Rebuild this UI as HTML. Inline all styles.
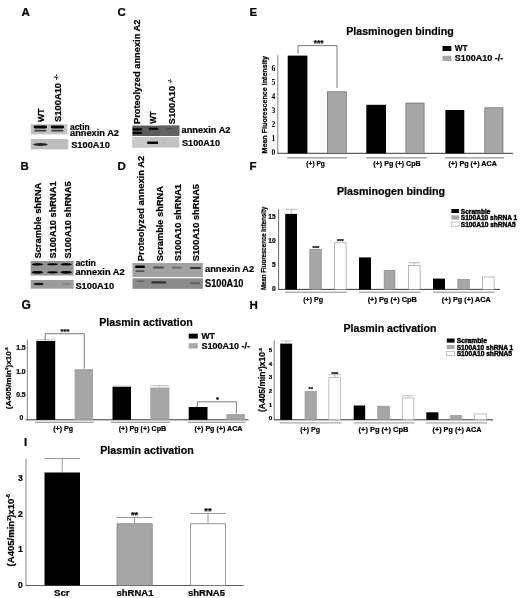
<!DOCTYPE html>
<html><head><meta charset="utf-8"><title>Figure</title>
<style>
html,body{margin:0;padding:0;background:#fff;}
body{width:520px;height:598px;overflow:hidden;}
svg{display:block;font-family:'Liberation Sans', sans-serif;}
text{stroke:#000;stroke-width:0.22px;}
</style></head><body>
<svg width="520" height="598" viewBox="0 0 520 598">
<defs>
<filter id="b" x="-20%" y="-50%" width="140%" height="200%"><feGaussianBlur stdDeviation="0.45"/></filter>
<filter id="soft"><feGaussianBlur stdDeviation="0.35"/></filter>
</defs>
<rect width="520" height="598" fill="#fff"/>
<g filter="url(#soft)">
<text x="21.5" y="15.6" font-size="11.5" font-weight="bold" fill="#000">A</text>
<text x="117.5" y="15.5" font-size="11.5" font-weight="bold" fill="#000">C</text>
<text x="249.5" y="15.6" font-size="11.5" font-weight="bold" fill="#000">E</text>
<text x="20.5" y="169.8" font-size="11.5" font-weight="bold" fill="#000">B</text>
<text x="117.5" y="170" font-size="11.5" font-weight="bold" fill="#000">D</text>
<text x="249.5" y="170.3" font-size="11.5" font-weight="bold" fill="#000">F</text>
<text x="21.5" y="309.2" font-size="12" font-weight="bold" fill="#000">G</text>
<text x="249.5" y="309.3" font-size="11.5" font-weight="bold" fill="#000">H</text>
<text x="24" y="445.5" font-size="11.5" font-weight="bold" fill="#000">I</text>
<rect x="30.80" y="124.20" width="36.50" height="10.20" fill="#c2c2c2"/>
<rect x="30.80" y="139.00" width="37.40" height="10.40" fill="#bdbdbd"/>
<rect x="33.60" y="125.60" width="13.40" height="2.80" rx="1.40" fill="#000" opacity="1.0" filter="url(#b)"/>
<rect x="50.70" y="125.60" width="13.40" height="2.80" rx="1.40" fill="#000" opacity="1.0" filter="url(#b)"/>
<rect x="34.30" y="129.85" width="12.00" height="1.70" rx="0.85" fill="#222" opacity="0.85" filter="url(#b)"/>
<rect x="51.40" y="129.85" width="12.00" height="1.70" rx="0.85" fill="#222" opacity="0.85" filter="url(#b)"/>
<ellipse cx="40.40" cy="144.50" rx="7.25" ry="1.50" fill="#1a1a1a" opacity="0.95" filter="url(#b)"/>
<text x="70" y="129.8" font-size="9" font-weight="bold" textLength="19.6" lengthAdjust="spacingAndGlyphs" fill="#000">actin</text>
<text x="70" y="136.1" font-size="9" font-weight="bold" textLength="49" lengthAdjust="spacingAndGlyphs" fill="#000">annexin A2</text>
<text x="71.2" y="148.4" font-size="9.6" font-weight="bold" textLength="38.6" lengthAdjust="spacingAndGlyphs" fill="#000">S100A10</text>
<text x="43.7" y="122" font-size="9" font-weight="bold" transform="rotate(-90 43.7 122)" textLength="13.5" lengthAdjust="spacingAndGlyphs" fill="#000">WT</text>
<text x="61.4" y="122" font-size="9.6" font-weight="bold" transform="rotate(-90 61.4 122)" textLength="39.1" lengthAdjust="spacingAndGlyphs" fill="#000">S100A10</text>
<text x="57.8" y="79.8" font-size="5.2" font-weight="bold" transform="rotate(-90 57.8 79.8)" textLength="5.4" lengthAdjust="spacingAndGlyphs" fill="#000">-/-</text>
<rect x="132.30" y="125.60" width="47.00" height="10.40" fill="#5a5a5a"/>
<rect x="160.00" y="125.60" width="19.30" height="10.40" fill="#646464"/>
<rect x="132.30" y="137.00" width="47.00" height="10.60" fill="#c2c2c2"/>
<rect x="132.30" y="137.00" width="17.70" height="10.60" fill="#c9c9c9"/>
<rect x="132.50" y="128.20" width="9.60" height="2.20" rx="1.10" fill="#000" opacity="1.0" filter="url(#b)"/>
<rect x="132.50" y="131.80" width="9.60" height="2.20" rx="1.10" fill="#000" opacity="1.0" filter="url(#b)"/>
<rect x="148.70" y="127.80" width="9.40" height="2.00" rx="1.00" fill="#000" opacity="1.0" filter="url(#b)"/>
<rect x="166.00" y="128.00" width="6.00" height="1.20" rx="0.60" fill="#333" opacity="0.5" filter="url(#b)"/>
<rect x="147.00" y="141.60" width="11.20" height="2.40" rx="1.20" fill="#000" opacity="1.0" filter="url(#b)"/>
<rect x="162.80" y="142.20" width="2.40" height="1.20" rx="0.60" fill="#999" opacity="0.6" filter="url(#b)"/>
<text x="181.5" y="132.6" font-size="9.2" font-weight="bold" textLength="49" lengthAdjust="spacingAndGlyphs" fill="#000">annexin A2</text>
<text x="182" y="145.6" font-size="9.4" font-weight="bold" textLength="38" lengthAdjust="spacingAndGlyphs" fill="#000">S100A10</text>
<text x="140.4" y="124" font-size="9.6" font-weight="bold" transform="rotate(-90 140.4 124)" textLength="104.5" lengthAdjust="spacingAndGlyphs" fill="#000">Proteolyzed annexin A2</text>
<text x="156.3" y="123.8" font-size="9" font-weight="bold" transform="rotate(-90 156.3 123.8)" textLength="12.6" lengthAdjust="spacingAndGlyphs" fill="#000">WT</text>
<text x="175.5" y="124.2" font-size="9.8" font-weight="bold" transform="rotate(-90 175.5 124.2)" textLength="38.2" lengthAdjust="spacingAndGlyphs" fill="#000">S100A10</text>
<text x="171.8" y="83" font-size="4.8" font-weight="bold" transform="rotate(-90 171.8 83)" textLength="4" lengthAdjust="spacingAndGlyphs" fill="#000">-/-</text>
<rect x="30.70" y="261.00" width="42.90" height="14.50" fill="#939393"/>
<rect x="30.70" y="280.00" width="42.90" height="8.70" fill="#9c9c9c"/>
<ellipse cx="37.40" cy="264.30" rx="5.70" ry="1.30" fill="#000" opacity="1.0" filter="url(#b)"/>
<ellipse cx="37.40" cy="272.30" rx="5.70" ry="1.40" fill="#000" opacity="1.0" filter="url(#b)"/>
<ellipse cx="52.50" cy="264.30" rx="5.30" ry="1.00" fill="#000" opacity="1.0" filter="url(#b)"/>
<ellipse cx="52.50" cy="272.30" rx="5.30" ry="1.10" fill="#000" opacity="1.0" filter="url(#b)"/>
<ellipse cx="66.20" cy="264.30" rx="5.70" ry="1.30" fill="#000" opacity="1.0" filter="url(#b)"/>
<ellipse cx="66.20" cy="272.30" rx="5.70" ry="1.40" fill="#000" opacity="1.0" filter="url(#b)"/>
<ellipse cx="38.60" cy="284.00" rx="5.00" ry="1.20" fill="#111" opacity="0.95" filter="url(#b)"/>
<ellipse cx="52.50" cy="284.80" rx="4.00" ry="0.80" fill="#777" opacity="0.3" filter="url(#b)"/>
<ellipse cx="66.50" cy="284.20" rx="4.50" ry="0.90" fill="#666" opacity="0.4" filter="url(#b)"/>
<text x="75.4" y="266.4" font-size="9.2" font-weight="bold" textLength="20.6" lengthAdjust="spacingAndGlyphs" fill="#000">actin</text>
<text x="75.4" y="275" font-size="9.2" font-weight="bold" textLength="49.4" lengthAdjust="spacingAndGlyphs" fill="#000">annexin A2</text>
<text x="75.4" y="288.5" font-size="9.6" font-weight="bold" textLength="38.7" lengthAdjust="spacingAndGlyphs" fill="#000">S100A10</text>
<text x="40.7" y="258.6" font-size="9.6" font-weight="bold" transform="rotate(-90 40.7 258.6)" textLength="76" lengthAdjust="spacingAndGlyphs" fill="#000">Scramble shRNA</text>
<text x="56.4" y="258.6" font-size="9.6" font-weight="bold" transform="rotate(-90 56.4 258.6)" textLength="77.2" lengthAdjust="spacingAndGlyphs" fill="#000">S100A10 shRNA1</text>
<text x="71" y="258.6" font-size="9.6" font-weight="bold" transform="rotate(-90 71 258.6)" textLength="77.2" lengthAdjust="spacingAndGlyphs" fill="#000">S100A10 shRNA5</text>
<rect x="132.50" y="263.00" width="70.40" height="14.10" fill="#a2a2a2"/>
<rect x="132.50" y="278.30" width="70.40" height="10.50" fill="#8a8a8a"/>
<rect x="135.00" y="265.50" width="10.00" height="2.60" rx="1.30" fill="#000" opacity="1.0" filter="url(#b)"/>
<rect x="135.50" y="270.30" width="9.00" height="1.80" rx="0.90" fill="#222" opacity="0.6" filter="url(#b)"/>
<rect x="153.00" y="266.60" width="11.00" height="2.00" rx="1.00" fill="#333" opacity="0.75" filter="url(#b)"/>
<rect x="172.00" y="266.70" width="10.00" height="1.80" rx="0.90" fill="#444" opacity="0.6" filter="url(#b)"/>
<rect x="190.00" y="266.90" width="11.00" height="2.20" rx="1.10" fill="#222" opacity="0.85" filter="url(#b)"/>
<rect x="136.50" y="280.40" width="8.00" height="1.60" rx="0.80" fill="#444" opacity="0.55" filter="url(#b)"/>
<rect x="151.30" y="281.20" width="15.00" height="2.40" rx="1.20" fill="#222" opacity="0.85" filter="url(#b)"/>
<rect x="190.00" y="282.30" width="10.00" height="1.80" rx="0.90" fill="#444" opacity="0.6" filter="url(#b)"/>
<text x="205" y="272" font-size="9.6" font-weight="bold" textLength="49.2" lengthAdjust="spacingAndGlyphs" fill="#000">annexin A2</text>
<text x="205" y="286.6" font-size="10" font-weight="bold" textLength="38.4" lengthAdjust="spacingAndGlyphs" fill="#000">S100A10</text>
<text x="144.2" y="261.2" font-size="9.6" font-weight="bold" transform="rotate(-90 144.2 261.2)" textLength="105.4" lengthAdjust="spacingAndGlyphs" fill="#000">Proteolyzed annexin A2</text>
<text x="162.9" y="261.2" font-size="9.6" font-weight="bold" transform="rotate(-90 162.9 261.2)" textLength="75.2" lengthAdjust="spacingAndGlyphs" fill="#000">Scramble shRNA</text>
<text x="181.3" y="261.2" font-size="9.6" font-weight="bold" transform="rotate(-90 181.3 261.2)" textLength="77.2" lengthAdjust="spacingAndGlyphs" fill="#000">S100A10 shRNA1</text>
<text x="198.7" y="261.2" font-size="9.6" font-weight="bold" transform="rotate(-90 198.7 261.2)" textLength="77.2" lengthAdjust="spacingAndGlyphs" fill="#000">S100A10 shRNA5</text>
<text x="400" y="34.7" font-size="10.9" font-weight="bold" text-anchor="middle" textLength="107.5" lengthAdjust="spacingAndGlyphs" fill="#000">Plasminogen binding</text>
<line x1="277.80" y1="55.20" x2="277.80" y2="153.30" stroke="#777" stroke-width="0.9"/>
<line x1="277.20" y1="153.30" x2="513.00" y2="153.30" stroke="#222" stroke-width="0.9"/>
<text x="273.4" y="155.0" font-size="7.6" font-weight="bold" text-anchor="middle" fill="#000" font-family="Liberation Serif, serif" style="stroke:none">0</text>
<text x="273.4" y="140.95" font-size="7.6" font-weight="bold" text-anchor="middle" fill="#000" font-family="Liberation Serif, serif" style="stroke:none">1</text>
<text x="273.4" y="126.90000000000002" font-size="7.6" font-weight="bold" text-anchor="middle" fill="#000" font-family="Liberation Serif, serif" style="stroke:none">2</text>
<text x="273.4" y="112.85000000000001" font-size="7.6" font-weight="bold" text-anchor="middle" fill="#000" font-family="Liberation Serif, serif" style="stroke:none">3</text>
<text x="273.4" y="98.80000000000001" font-size="7.6" font-weight="bold" text-anchor="middle" fill="#000" font-family="Liberation Serif, serif" style="stroke:none">4</text>
<text x="273.4" y="84.75000000000001" font-size="7.6" font-weight="bold" text-anchor="middle" fill="#000" font-family="Liberation Serif, serif" style="stroke:none">5</text>
<text x="273.4" y="70.7" font-size="7.6" font-weight="bold" text-anchor="middle" fill="#000" font-family="Liberation Serif, serif" style="stroke:none">6</text>
<text x="266.5" y="153.5" font-size="6.9" font-weight="bold" transform="rotate(-90 266.5 153.5)" textLength="97.5" lengthAdjust="spacingAndGlyphs" fill="#000">Mean Fluorescence Intensity</text>
<rect x="287.70" y="55.60" width="19.70" height="97.70" fill="#000"/>
<rect x="327.30" y="91.80" width="19.00" height="61.50" fill="#a6a6a6" stroke="#555" stroke-width="0.6"/>
<rect x="366.30" y="104.80" width="19.70" height="48.50" fill="#000"/>
<rect x="405.90" y="103.00" width="18.20" height="50.30" fill="#a6a6a6" stroke="#555" stroke-width="0.6"/>
<rect x="445.40" y="110.00" width="18.90" height="43.30" fill="#000"/>
<rect x="484.80" y="107.80" width="18.20" height="45.50" fill="#a6a6a6" stroke="#555" stroke-width="0.6"/>
<line x1="287.00" y1="157.90" x2="347.00" y2="157.90" stroke="#555" stroke-width="0.8"/>
<line x1="366.00" y1="157.90" x2="427.00" y2="157.90" stroke="#555" stroke-width="0.8"/>
<line x1="445.00" y1="157.90" x2="504.00" y2="157.90" stroke="#555" stroke-width="0.8"/>
<text x="315.6" y="166.2" font-size="6.8" font-weight="bold" text-anchor="middle" textLength="18.5" lengthAdjust="spacingAndGlyphs" fill="#000">(+) Pg</text>
<text x="397" y="166.2" font-size="6.8" font-weight="bold" text-anchor="middle" textLength="47.5" lengthAdjust="spacingAndGlyphs" fill="#000">(+) Pg (+) CpB</text>
<text x="472.7" y="166.2" font-size="6.8" font-weight="bold" text-anchor="middle" textLength="48.5" lengthAdjust="spacingAndGlyphs" fill="#000">(+) Pg (+) ACA</text>
<polyline points="298,53.7 298,45.6 337,45.6 337,88" fill="none" stroke="#333" stroke-width="0.65"/>
<text x="318.7" y="46" font-size="8.4" font-weight="bold" text-anchor="middle" fill="#000">***</text>
<rect x="442.50" y="46.00" width="8.90" height="5.00" fill="#000"/>
<text x="454.8" y="51.4" font-size="8.4" font-weight="bold" textLength="12.8" lengthAdjust="spacingAndGlyphs" fill="#000">WT</text>
<rect x="442.50" y="55.80" width="8.90" height="5.20" fill="#a6a6a6"/>
<text x="454.8" y="61.4" font-size="8.4" font-weight="bold" textLength="48.4" lengthAdjust="spacingAndGlyphs" fill="#000">S100A10 -/-</text>
<text x="391" y="195.2" font-size="10.9" font-weight="bold" text-anchor="middle" textLength="108" lengthAdjust="spacingAndGlyphs" fill="#000">Plasminogen binding</text>
<line x1="278.60" y1="209.20" x2="278.60" y2="289.40" stroke="#444" stroke-width="0.8"/>
<line x1="278.20" y1="289.40" x2="500.00" y2="289.40" stroke="#222" stroke-width="0.9"/>
<text x="275.6" y="290.7" font-size="6.6" font-weight="bold" text-anchor="end" fill="#000">0</text>
<text x="275.6" y="266.95" font-size="6.6" font-weight="bold" text-anchor="end" fill="#000">5</text>
<text x="275.6" y="243.2" font-size="6.6" font-weight="bold" text-anchor="end" fill="#000">10</text>
<text x="275.6" y="219.45" font-size="6.6" font-weight="bold" text-anchor="end" fill="#000">15</text>
<text x="265.7" y="290" font-size="6.6" font-weight="bold" transform="rotate(-90 265.7 290)" textLength="83.5" lengthAdjust="spacingAndGlyphs" fill="#000">Mean Fluorescence Intensity</text>
<rect x="285.20" y="213.90" width="11.80" height="75.50" fill="#000"/>
<rect x="309.80" y="249.30" width="11.80" height="40.10" fill="#a6a6a6" stroke="#888" stroke-width="0.6"/>
<rect x="334.60" y="242.80" width="11.50" height="46.60" fill="#fff" stroke="#888" stroke-width="0.6"/>
<rect x="359.00" y="257.40" width="12.00" height="32.00" fill="#000"/>
<rect x="384.10" y="270.30" width="10.90" height="19.10" fill="#a6a6a6" stroke="#888" stroke-width="0.6"/>
<rect x="408.60" y="265.30" width="11.50" height="24.10" fill="#fff" stroke="#888" stroke-width="0.6"/>
<rect x="433.00" y="278.60" width="12.00" height="10.80" fill="#000"/>
<rect x="457.80" y="279.30" width="11.60" height="10.10" fill="#a6a6a6" stroke="#888" stroke-width="0.6"/>
<rect x="482.60" y="277.00" width="11.50" height="12.40" fill="#fff" stroke="#888" stroke-width="0.6"/>
<line x1="291.20" y1="213.90" x2="291.20" y2="209.30" stroke="#888" stroke-width="0.6"/>
<line x1="285.40" y1="209.30" x2="297.00" y2="209.30" stroke="#888" stroke-width="0.6"/>
<line x1="414.35" y1="265.00" x2="414.35" y2="262.70" stroke="#888" stroke-width="0.6"/>
<line x1="408.30" y1="262.70" x2="420.40" y2="262.70" stroke="#888" stroke-width="0.6"/>
<text x="316" y="249.6" font-size="5.8" font-weight="bold" text-anchor="middle" fill="#000">***</text>
<text x="340.4" y="243" font-size="5.8" font-weight="bold" text-anchor="middle" fill="#000">***</text>
<line x1="285.00" y1="292.20" x2="347.00" y2="292.20" stroke="#222" stroke-width="0.55"/>
<line x1="359.00" y1="292.20" x2="420.50" y2="292.20" stroke="#222" stroke-width="0.55"/>
<line x1="433.00" y1="292.20" x2="494.50" y2="292.20" stroke="#222" stroke-width="0.55"/>
<text x="313.1" y="301.8" font-size="6.9" font-weight="bold" text-anchor="middle" textLength="19.8" lengthAdjust="spacingAndGlyphs" fill="#000">(+) Pg</text>
<text x="392.3" y="301.8" font-size="7" font-weight="bold" text-anchor="middle" textLength="49.3" lengthAdjust="spacingAndGlyphs" fill="#000">(+) Pg (+) CpB</text>
<text x="466.3" y="301.8" font-size="7" font-weight="bold" text-anchor="middle" textLength="49" lengthAdjust="spacingAndGlyphs" fill="#000">(+) Pg (+) ACA</text>
<rect x="451.40" y="209.00" width="7.60" height="4.00" fill="#000"/>
<text x="460.8" y="213.5" font-size="6.4" font-weight="bold" textLength="29.6" lengthAdjust="spacingAndGlyphs" fill="#000" style="stroke-width:0.4px">Scramble</text>
<rect x="451.40" y="215.40" width="7.60" height="4.20" fill="#a6a6a6"/>
<text x="460.8" y="220.1" font-size="6.4" font-weight="bold" textLength="56.4" lengthAdjust="spacingAndGlyphs" fill="#000" style="stroke-width:0.4px">S100A10 shRNA 1</text>
<rect x="451.40" y="222.00" width="7.60" height="4.20" fill="#fff" stroke="#888" stroke-width="0.5"/>
<text x="460.8" y="226.9" font-size="6.4" font-weight="bold" textLength="55" lengthAdjust="spacingAndGlyphs" fill="#000" style="stroke-width:0.4px">S100A10 shRNA5</text>
<text x="146" y="326.2" font-size="10.9" font-weight="bold" text-anchor="middle" textLength="93.5" lengthAdjust="spacingAndGlyphs" fill="#000">Plasmin activation</text>
<line x1="27.30" y1="339.50" x2="27.30" y2="419.80" stroke="#666" stroke-width="0.8"/>
<line x1="25.80" y1="419.80" x2="248.50" y2="419.80" stroke="#222" stroke-width="0.9"/>
<text x="23.2" y="420.2" font-size="6.8" font-weight="bold" text-anchor="end" fill="#000">0</text>
<text x="25.6" y="397.3" font-size="6.8" font-weight="bold" text-anchor="end" fill="#000">0.5</text>
<text x="25.6" y="373.6" font-size="6.8" font-weight="bold" text-anchor="end" fill="#000">1.0</text>
<text x="25.6" y="349.90000000000003" font-size="6.8" font-weight="bold" text-anchor="end" fill="#000">1.5</text>
<text x="11" y="409.2" font-size="8" font-weight="bold" transform="rotate(-90 11 409.2)" textLength="62" lengthAdjust="spacingAndGlyphs" fill="#000">(A405/min<tspan font-size="4.4" dy="-2.8">2</tspan><tspan dy="2.8">)x10</tspan><tspan font-size="4.4" dy="-3.2">-6</tspan></text>
<rect x="36.30" y="341.00" width="18.90" height="78.80" fill="#000"/>
<rect x="74.60" y="370.50" width="18.40" height="49.30" fill="#a6a6a6"/>
<rect x="112.50" y="386.70" width="18.50" height="33.10" fill="#000"/>
<rect x="150.20" y="387.50" width="19.20" height="32.30" fill="#a6a6a6"/>
<rect x="188.70" y="407.00" width="18.80" height="12.80" fill="#000"/>
<rect x="226.40" y="414.00" width="18.60" height="5.80" fill="#a6a6a6"/>
<line x1="36.30" y1="339.80" x2="55.20" y2="339.80" stroke="#999" stroke-width="0.7"/>
<rect x="74.60" y="369.40" width="18.40" height="1.20" fill="#808080"/>
<rect x="112.50" y="385.60" width="18.50" height="1.20" fill="#bbb"/>
<line x1="159.80" y1="387.50" x2="159.80" y2="385.60" stroke="#999" stroke-width="0.6"/>
<line x1="150.20" y1="385.60" x2="169.40" y2="385.60" stroke="#999" stroke-width="0.6"/>
<line x1="35.00" y1="422.30" x2="93.70" y2="422.30" stroke="#222" stroke-width="0.55"/>
<line x1="111.00" y1="422.30" x2="170.00" y2="422.30" stroke="#222" stroke-width="0.55"/>
<line x1="188.00" y1="422.30" x2="245.50" y2="422.30" stroke="#222" stroke-width="0.55"/>
<text x="63.2" y="430.8" font-size="6.8" font-weight="bold" text-anchor="middle" textLength="19.9" lengthAdjust="spacingAndGlyphs" fill="#000">(+) Pg</text>
<text x="142.4" y="430.8" font-size="6.8" font-weight="bold" text-anchor="middle" textLength="47.5" lengthAdjust="spacingAndGlyphs" fill="#000">(+) Pg (+) CpB</text>
<text x="218.5" y="430.8" font-size="6.8" font-weight="bold" text-anchor="middle" textLength="48" lengthAdjust="spacingAndGlyphs" fill="#000">(+) Pg (+) ACA</text>
<polyline points="45.2,340.4 45.2,333.7 84.3,333.7 84.3,368.7" fill="none" stroke="#333" stroke-width="0.65"/>
<text x="65" y="334.2" font-size="7.6" font-weight="bold" text-anchor="middle" fill="#000">***</text>
<polyline points="197.3,407 197.3,401.8 236.4,401.8 236.4,413.4" fill="none" stroke="#333" stroke-width="0.65"/>
<text x="217.5" y="402.4" font-size="7.6" font-weight="bold" text-anchor="middle" fill="#000">*</text>
<rect x="188.70" y="333.70" width="9.10" height="4.90" fill="#000"/>
<text x="201.4" y="338.9" font-size="8.6" font-weight="bold" textLength="13.4" lengthAdjust="spacingAndGlyphs" fill="#000">WT</text>
<rect x="188.70" y="343.20" width="9.10" height="5.30" fill="#a6a6a6"/>
<text x="201.4" y="348.9" font-size="8.6" font-weight="bold" textLength="48.6" lengthAdjust="spacingAndGlyphs" fill="#000">S100A10 -/-</text>
<text x="390" y="331.5" font-size="10.9" font-weight="bold" text-anchor="middle" textLength="93" lengthAdjust="spacingAndGlyphs" fill="#000">Plasmin activation</text>
<line x1="274.20" y1="340.40" x2="274.20" y2="419.80" stroke="#555" stroke-width="0.8"/>
<line x1="273.80" y1="419.80" x2="493.00" y2="419.80" stroke="#222" stroke-width="0.9"/>
<text x="270.6" y="420.3" font-size="6.2" font-weight="bold" text-anchor="middle" fill="#000">0</text>
<text x="270.6" y="406.6" font-size="6.2" font-weight="bold" text-anchor="middle" fill="#000">1</text>
<text x="270.6" y="392.90000000000003" font-size="6.2" font-weight="bold" text-anchor="middle" fill="#000">2</text>
<text x="270.6" y="379.20000000000005" font-size="6.2" font-weight="bold" text-anchor="middle" fill="#000">3</text>
<text x="270.6" y="365.5" font-size="6.2" font-weight="bold" text-anchor="middle" fill="#000">4</text>
<text x="270.6" y="351.8" font-size="6.2" font-weight="bold" text-anchor="middle" fill="#000">5</text>
<text x="264.8" y="412" font-size="8.2" font-weight="bold" transform="rotate(-90 264.8 412)" textLength="64" lengthAdjust="spacingAndGlyphs" fill="#000">(A405/min<tspan font-size="4.4" dy="-2.8">2</tspan><tspan dy="2.8">)x10</tspan><tspan font-size="4.4" dy="-3.2">-6</tspan></text>
<rect x="280.20" y="343.60" width="11.90" height="76.20" fill="#000"/>
<rect x="305.00" y="391.30" width="11.50" height="28.50" fill="#a6a6a6" stroke="#999" stroke-width="0.6"/>
<rect x="328.90" y="377.70" width="11.80" height="42.10" fill="#fff" stroke="#999" stroke-width="0.6"/>
<rect x="353.70" y="405.50" width="11.50" height="14.30" fill="#000"/>
<rect x="377.70" y="406.10" width="12.00" height="13.70" fill="#a6a6a6" stroke="#999" stroke-width="0.6"/>
<rect x="402.30" y="398.00" width="11.60" height="21.80" fill="#fff" stroke="#999" stroke-width="0.6"/>
<rect x="426.30" y="412.30" width="12.10" height="7.50" fill="#000"/>
<rect x="450.30" y="415.30" width="11.40" height="4.50" fill="#a6a6a6" stroke="#999" stroke-width="0.6"/>
<rect x="474.50" y="413.90" width="12.20" height="5.90" fill="#fff" stroke="#999" stroke-width="0.6"/>
<line x1="286.35" y1="343.60" x2="286.35" y2="341.00" stroke="#999" stroke-width="0.6"/>
<line x1="280.40" y1="341.00" x2="292.30" y2="341.00" stroke="#999" stroke-width="0.6"/>
<line x1="334.80" y1="377.40" x2="334.80" y2="374.70" stroke="#999" stroke-width="0.6"/>
<line x1="328.60" y1="374.70" x2="341.00" y2="374.70" stroke="#999" stroke-width="0.6"/>
<line x1="408.10" y1="397.70" x2="408.10" y2="395.70" stroke="#999" stroke-width="0.6"/>
<line x1="402.00" y1="395.70" x2="414.20" y2="395.70" stroke="#999" stroke-width="0.6"/>
<text x="310.8" y="390.6" font-size="5.8" font-weight="bold" text-anchor="middle" fill="#000">**</text>
<text x="334.8" y="375.8" font-size="5.8" font-weight="bold" text-anchor="middle" fill="#000">***</text>
<line x1="280.00" y1="422.90" x2="341.50" y2="422.90" stroke="#333" stroke-width="0.55"/>
<line x1="353.50" y1="422.90" x2="414.50" y2="422.90" stroke="#333" stroke-width="0.55"/>
<line x1="426.00" y1="422.90" x2="487.00" y2="422.90" stroke="#333" stroke-width="0.55"/>
<text x="310.2" y="432.2" font-size="6.9" font-weight="bold" text-anchor="middle" textLength="20" lengthAdjust="spacingAndGlyphs" fill="#000">(+) Pg</text>
<text x="383.5" y="432.2" font-size="7" font-weight="bold" text-anchor="middle" textLength="49.9" lengthAdjust="spacingAndGlyphs" fill="#000">(+) Pg (+) CpB</text>
<text x="457" y="432.2" font-size="7" font-weight="bold" text-anchor="middle" textLength="49" lengthAdjust="spacingAndGlyphs" fill="#000">(+) Pg (+) ACA</text>
<rect x="446.80" y="338.50" width="7.80" height="4.10" fill="#000"/>
<text x="456.7" y="343.1" font-size="6.4" font-weight="bold" textLength="30.3" lengthAdjust="spacingAndGlyphs" fill="#000" style="stroke-width:0.4px">Scramble</text>
<rect x="446.80" y="345.00" width="7.80" height="4.20" fill="#a6a6a6"/>
<text x="456.7" y="349.7" font-size="6.4" font-weight="bold" textLength="56.6" lengthAdjust="spacingAndGlyphs" fill="#000" style="stroke-width:0.4px">S100A10 shRNA 1</text>
<rect x="446.80" y="351.70" width="7.80" height="4.10" fill="#fff" stroke="#888" stroke-width="0.5"/>
<text x="456.7" y="356.3" font-size="6.4" font-weight="bold" textLength="55.3" lengthAdjust="spacingAndGlyphs" fill="#000" style="stroke-width:0.4px">S100A10 shRNA5</text>
<text x="147" y="454.1" font-size="10.9" font-weight="bold" text-anchor="middle" textLength="93.5" lengthAdjust="spacingAndGlyphs" fill="#000">Plasmin activation</text>
<line x1="26.00" y1="458.60" x2="26.00" y2="585.50" stroke="#777" stroke-width="0.9"/>
<line x1="25.60" y1="585.50" x2="243.50" y2="585.50" stroke="#333" stroke-width="0.8"/>
<text x="20.3" y="588.1" font-size="8.6" font-weight="bold" text-anchor="middle" fill="#000">0</text>
<text x="20.3" y="552.3000000000001" font-size="8.6" font-weight="bold" text-anchor="middle" fill="#000">1</text>
<text x="20.3" y="516.5" font-size="8.6" font-weight="bold" text-anchor="middle" fill="#000">2</text>
<text x="20.3" y="480.70000000000005" font-size="8.6" font-weight="bold" text-anchor="middle" fill="#000">3</text>
<text x="14.2" y="566.4" font-size="8.8" font-weight="bold" transform="rotate(-90 14.2 566.4)" textLength="72.5" lengthAdjust="spacingAndGlyphs" fill="#000">(A405/min<tspan font-size="5" dy="-3.2">2</tspan><tspan dy="3.2">)x10</tspan><tspan font-size="5" dy="-3.8">-6</tspan></text>
<rect x="44.50" y="472.50" width="35.50" height="113.00" fill="#000"/>
<rect x="117.00" y="523.80" width="35.20" height="61.70" fill="#a6a6a6" stroke="#666" stroke-width="0.6"/>
<rect x="190.30" y="523.80" width="35.40" height="61.70" fill="#fff" stroke="#555" stroke-width="0.6"/>
<line x1="62.25" y1="472.50" x2="62.25" y2="458.50" stroke="#555" stroke-width="0.6"/>
<line x1="44.50" y1="458.50" x2="80.00" y2="458.50" stroke="#555" stroke-width="0.6"/>
<line x1="134.60" y1="523.50" x2="134.60" y2="517.50" stroke="#555" stroke-width="0.6"/>
<line x1="116.70" y1="517.50" x2="152.50" y2="517.50" stroke="#555" stroke-width="0.6"/>
<line x1="208.00" y1="523.50" x2="208.00" y2="513.50" stroke="#555" stroke-width="0.6"/>
<line x1="190.00" y1="513.50" x2="226.00" y2="513.50" stroke="#555" stroke-width="0.6"/>
<text x="134.6" y="518" font-size="9.4" font-weight="bold" text-anchor="middle" fill="#000">**</text>
<text x="208" y="514.4" font-size="9.4" font-weight="bold" text-anchor="middle" fill="#000">**</text>
<text x="61.8" y="595.5" font-size="9.6" font-weight="bold" text-anchor="middle" fill="#000">Scr</text>
<text x="135" y="595.5" font-size="9.6" font-weight="bold" text-anchor="middle" textLength="37" lengthAdjust="spacingAndGlyphs" fill="#000">shRNA1</text>
<text x="206.5" y="595.5" font-size="9.6" font-weight="bold" text-anchor="middle" textLength="37" lengthAdjust="spacingAndGlyphs" fill="#000">shRNA5</text>
</g>
</svg>
</body></html>
